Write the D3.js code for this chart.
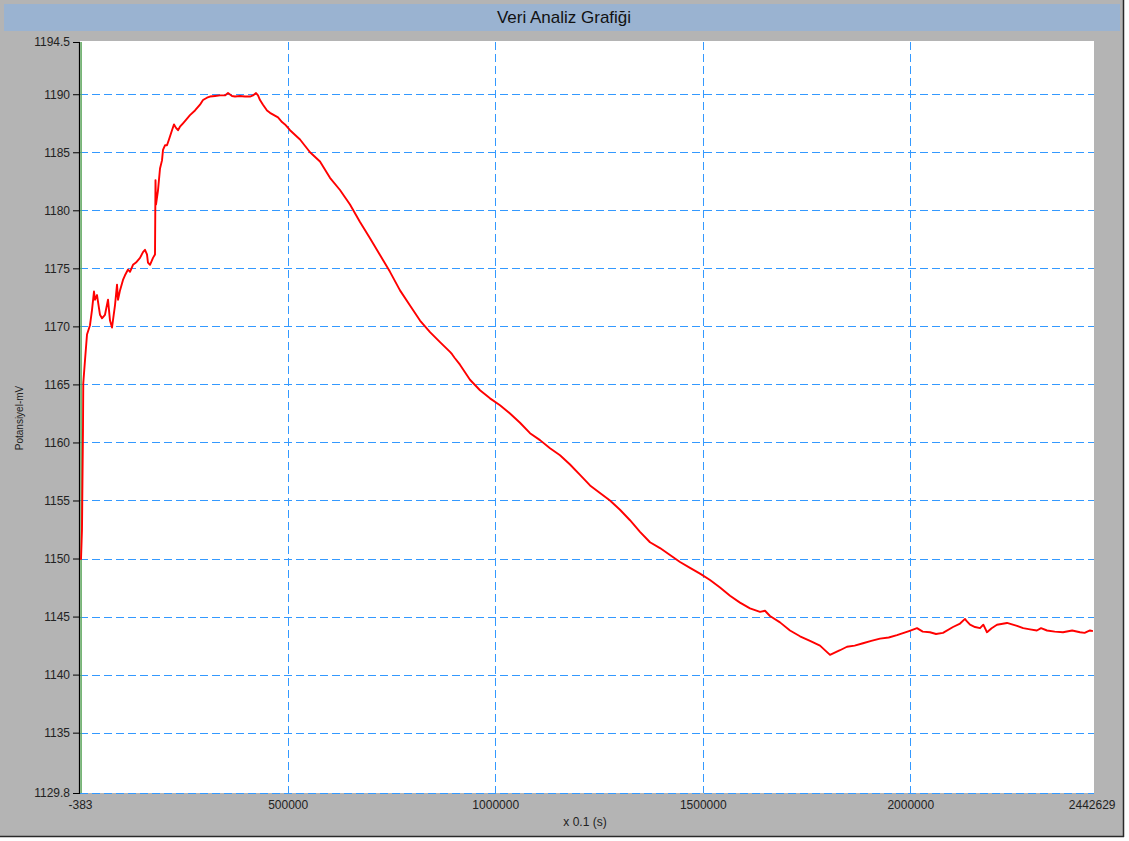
<!DOCTYPE html>
<html>
<head>
<meta charset="utf-8">
<script src="https://cdn.jsdelivr.net/npm/d3@7"></script>
<style>
  body { margin: 0; background: #ffffff; }
  text { font-family: "Liberation Sans", Arial, sans-serif; }
</style>
</head>
<body>
<div id="my_dataviz"></div>
<script>
// Chart texts
var title = "Veri Analiz Grafiği";
var xLabel = "x 0.1 (s)";
var yLabel = "Potansiyel-mV";

// Axis ticks
var xTicks = [-383, 500000, 1000000, 1500000, 2000000, 2442629];
var yTicks = [1129.8, 1135, 1140, 1145, 1150, 1155, 1160, 1165, 1170, 1175, 1180, 1185, 1190, 1194.5];
var xGrid = [500000, 1000000, 1500000, 2000000];
var yGrid = [1129.8, 1135, 1140, 1145, 1150, 1155, 1160, 1165, 1170, 1175, 1180, 1185, 1190];

var time = [2000, 4400, 6800, 7500, 11700, 16500, 23700, 28500, 33300, 35800, 40600, 47800, 52600, 59800,
    67100, 71900, 76700, 83900, 88800, 91200, 96000, 103200, 108000, 115300, 120100, 127300, 134500,
    144200, 151400, 156200, 161000, 163400, 168300, 175500, 180300, 181500, 182700, 187500, 192400,
    197200, 199600, 204400, 209200, 214000, 221300, 226100, 230900, 235700, 240500, 247800, 255000,
    264600, 276700, 288700, 296000, 305600, 312800, 324900, 336900, 349000, 356200, 365800, 373100,
    385100, 397100, 409200, 416400, 423700, 428500, 433300, 440500, 450200, 457400, 467000, 476700,
    486300, 493500, 505600, 529700, 553800, 577800, 601900, 626000, 650100, 674200, 698300, 722400,
    746500, 770600, 794700, 818800, 842900, 867000, 891100, 896000, 902000, 915100, 939200, 963300,
    987400, 1011500, 1035600, 1059700, 1083800, 1107900, 1132000, 1156100, 1180200, 1204300, 1228400,
    1252400, 1276500, 1300600, 1324700, 1348800, 1372900, 1397000, 1421100, 1445200, 1469300,
    1493400, 1517500, 1541600, 1565700, 1589700, 1613800, 1637900, 1650000, 1662000, 1686100,
    1710200, 1734300, 1758400, 1782500, 1806600, 1830700, 1847500, 1866000, 1886100, 1906000,
    1927000, 1948000, 1968000, 1996900, 2016200, 2030000, 2047500, 2062000, 2078800, 2102900,
    2120000, 2131800, 2136000, 2143900, 2156000, 2168000, 2176000, 2184800, 2196000, 2208900,
    2233000, 2257100, 2272000, 2288400, 2305000, 2315000, 2329400, 2348000, 2367900, 2390000,
    2408900, 2420000, 2433000, 2440000];
var potential = [1149.9, 1152.5, 1161.1, 1165.1, 1167.1, 1169.3, 1170.1, 1171.4, 1173.0, 1172.3, 1172.7, 1171.0,
    1170.7, 1171.0, 1172.3, 1170.5, 1169.9, 1171.8, 1173.6, 1172.3, 1173.1, 1174.0, 1174.4, 1174.9,
    1174.7, 1175.3, 1175.5, 1175.9, 1176.4, 1176.6, 1176.2, 1175.5, 1175.3, 1175.9, 1176.2, 1182.6,
    1180.5, 1181.7, 1183.6, 1184.3, 1185.2, 1185.6, 1185.6, 1186.1, 1186.9, 1187.4, 1187.1, 1186.9,
    1187.2, 1187.5, 1187.8, 1188.2, 1188.6, 1189.1, 1189.5, 1189.7, 1189.8, 1189.85, 1189.9, 1189.9,
    1190.1, 1189.85, 1189.8, 1189.85, 1189.8, 1189.8, 1189.9, 1190.1, 1189.9, 1189.5, 1189.1, 1188.6,
    1188.4, 1188.2, 1188.0, 1187.6, 1187.4, 1186.9, 1186.1, 1185.0, 1184.2, 1182.8, 1181.75, 1180.5,
    1179.0, 1177.6, 1176.15, 1174.7, 1173.1, 1171.8, 1170.5, 1169.5, 1168.65, 1167.8, 1167.6, 1167.3,
    1166.7, 1165.4, 1164.5, 1163.8, 1163.2, 1162.5, 1161.7, 1160.8, 1160.2, 1159.5, 1158.9, 1158.1,
    1157.2, 1156.3, 1155.65, 1155.0, 1154.2, 1153.3, 1152.3, 1151.4, 1150.9, 1150.3, 1149.7, 1149.2,
    1148.7, 1148.15, 1147.5, 1146.8, 1146.2, 1145.7, 1145.4, 1145.5, 1145.05, 1144.5, 1143.8, 1143.3,
    1142.9, 1142.5, 1141.7, 1142.1, 1142.4, 1142.5, 1142.7, 1142.9, 1143.1, 1143.2, 1143.4, 1143.75,
    1144.0, 1143.7, 1143.65, 1143.5, 1143.6, 1144.1, 1144.4, 1144.8, 1144.6, 1144.3, 1144.1, 1144.0,
    1144.3, 1143.65, 1144.0, 1144.3, 1144.45, 1144.2, 1144.0, 1143.9, 1143.8, 1144.0, 1143.8, 1143.7,
    1143.65, 1143.8, 1143.65, 1143.6, 1143.8, 1143.75];

// Green marker series at the start of the recording
var markerTime = [2200, 2200];
var markerPotential = [1129.8, 1194.5];

var data = time.map(function (t, i) { return { t: t, v: potential[i] }; });
var marker = markerTime.map(function (t, i) { return { t: t, v: markerPotential[i] }; });

var W = 1129, H = 841;
var plot = { left: 80, right: 1094, top: 42, bottom: 793 };

var svg = d3.select("#my_dataviz")
    .append("svg")
    .attr("width", W)
    .attr("height", H);

// Window panel
svg.append("rect")
    .attr("x", 0).attr("y", 0)
    .attr("width", 1124).attr("height", 837)
    .style("fill", "#b4b4b4");
svg.append("line")
    .attr("x1", 1123.5).attr("x2", 1123.5).attr("y1", 0).attr("y2", 837)
    .style("stroke", "#2a2a2a").style("stroke-width", 1.5);
svg.append("line")
    .attr("x1", 0).attr("x2", 1124).attr("y1", 836.5).attr("y2", 836.5)
    .style("stroke", "#2a2a2a").style("stroke-width", 1.5);

// Title bar
svg.append("rect")
    .attr("x", 4).attr("y", 4)
    .attr("width", 1116).attr("height", 27)
    .style("fill", "#9ab3d1");
svg.append("text")
    .attr("x", 564).attr("y", 23)
    .attr("text-anchor", "middle")
    .style("font-size", "17px")
    .style("fill", "#111")
    .text(title);

// Plot area
svg.append("rect")
    .attr("x", plot.left).attr("y", plot.top - 1)
    .attr("width", plot.right - plot.left).attr("height", plot.bottom - plot.top + 1)
    .style("fill", "#ffffff");

// Scales
var x = d3.scaleLinear()
    .domain([-383, 2442629])
    .range([plot.left, plot.right]);
var y = d3.scaleLinear()
    .domain([1129.8, 1194.5])
    .range([plot.bottom, plot.top]);

// Grid lines
svg.append("g")
    .selectAll("line")
    .data(yGrid)
    .enter()
    .append("line")
    .attr("x1", plot.left).attr("x2", plot.right)
    .attr("y1", function (d) { return Math.round(y(d)) + 0.5; })
    .attr("y2", function (d) { return Math.round(y(d)) + 0.5; })
    .style("stroke", "#3399ff")
    .style("stroke-width", 1)
    .style("stroke-dasharray", "8,4");
svg.append("g")
    .selectAll("line")
    .data(xGrid)
    .enter()
    .append("line")
    .attr("x1", function (d) { return Math.round(x(d)) + 0.5; })
    .attr("x2", function (d) { return Math.round(x(d)) + 0.5; })
    .attr("y1", plot.top).attr("y2", plot.bottom)
    .style("stroke", "#3399ff")
    .style("stroke-width", 1)
    .style("stroke-dasharray", "8,4");

// Y axis
var yAxis = svg.append("g")
    .attr("transform", "translate(" + (plot.left - 1) + ",0)")
    .style("font-size", "12px")
    .call(d3.axisLeft(y).tickValues(yTicks).tickSize(6).tickPadding(3)
        .tickFormat(function (d) { return d; }));
yAxis.select(".domain").attr("stroke", "#000").attr("stroke-width", 1.2);
yAxis.selectAll("text").style("fill", "#222").style("font-family", "Liberation Sans, Arial, sans-serif");

// X axis
var xAxis = svg.append("g")
    .attr("transform", "translate(0," + plot.bottom + ")")
    .style("font-size", "12px")
    .call(d3.axisBottom(x).tickValues(xTicks).tickSize(0).tickPadding(7)
        .tickFormat(function (d) { return d; }));
xAxis.select(".domain").remove();
xAxis.selectAll("text").style("fill", "#222").style("font-family", "Liberation Sans, Arial, sans-serif");
xAxis.selectAll(".tick text")
    .filter(function (d) { return d === 2442629; })
    .attr("text-anchor", "end")
    .attr("x", 21);

// Axis titles
svg.append("text")
    .attr("x", 585).attr("y", 826)
    .attr("text-anchor", "middle")
    .style("font-size", "12px")
    .style("fill", "#222")
    .text(xLabel);
svg.append("text")
    .attr("transform", "translate(23,418) rotate(-90)")
    .attr("text-anchor", "middle")
    .style("font-size", "10px")
    .style("fill", "#222")
    .text(yLabel);

// Series
var line = d3.line()
    .x(function (d) { return x(d.t); })
    .y(function (d) { return y(d.v); });

svg.append("path")
    .datum(marker)
    .attr("d", line)
    .style("fill", "none")
    .style("stroke", "#5aa55a")
    .style("stroke-width", 1.5);

svg.append("path")
    .datum(data)
    .attr("d", line)
    .style("fill", "none")
    .style("stroke", "#ff0000")
    .style("stroke-width", 1.9)
    .style("stroke-linejoin", "round");
</script>
</body>
</html>
